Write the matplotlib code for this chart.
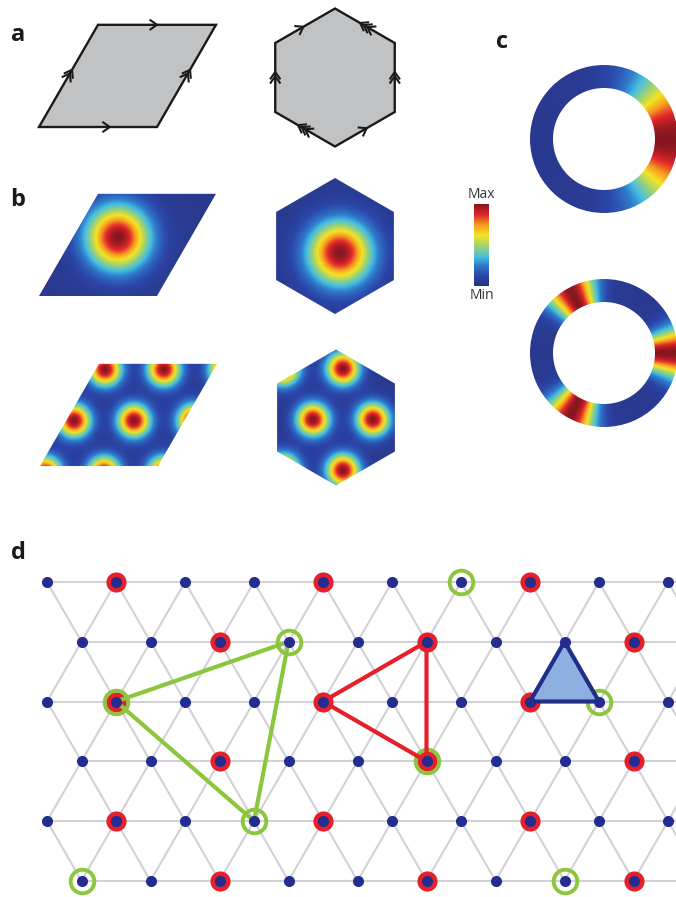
import numpy as np
import matplotlib
matplotlib.use('Agg')
import matplotlib.pyplot as plt
from matplotlib.colors import LinearSegmentedColormap
from matplotlib.patches import Polygon, Wedge

# ---------------- data ----------------
# panel a: unit cells (page pixel coordinates)
RHOMB_A_ORIGIN = (39, 127)          # bottom-left corner
HEX_A_CENTER = (335, 77.5)
RHOMB_SIDE = 118
HEX_A_RADIUS = 69
# arrow marks: (from vertex, to vertex, position along edge, number of chevrons)
RHOMB_ARROWS = [(0, 1, 0.60, 1), (3, 2, 0.50, 1), (0, 3, 0.56, 2), (1, 2, 0.56, 2)]
HEX_ARROWS = [(5, 0, 0.47, 1), (1, 0, 0.58, 3), (4, 5, 0.58, 2),
              (2, 1, 0.58, 2), (3, 4, 0.62, 3), (3, 2, 0.53, 1)]

# panel b: cells and density peaks
RHOMB_B_ORIGINS = [(39, 296), (40, 466)]
HEX_B_CENTERS = [(335, 246), (336, 417.5)]
HEX_B_RADIUS = 68
PEAKS_RHOMB_TOP = [(118, 238)]
PEAKS_HEX_TOP = [(340, 253)]
PEAKS_RHOMB_BOT = [(105, 370), (164, 370), (226, 370),
                   (74, 421), (134, 421), (194, 421),
                   (45, 473), (104, 473), (164, 473)]
PEAKS_HEX_BOT = [(283, 369), (343, 369), (313, 420), (373, 420),
                 (283, 471), (343, 471)]
SIGMA_TOP = 22
SIGMA_BOT = 11.5

# panel c: rings
RING_CENTERS = [(604, 139), (604, 353)]
RING_RADII = (51, 74)
RING1_PEAKS_DEG = [0]
RING2_PEAKS_DEG = [0, 118, -118]
RING1_SIGMA_DEG = 38
RING2_SIGMA_DEG = 14

# colour scale
CMAP_POS = [0.0, 0.12, 0.25, 0.35, 0.5, 0.62, 0.75, 0.87, 1.0]
CMAP_COLORS = ['#28327f', '#2b45a8', '#2f7ccc', '#45bfe0', '#a8d46a',
               '#f4e423', '#f59a22', '#e3262a', '#861620']
CBAR_BOX = (474, 489, 204, 286)

# panel d: triangular lattice (row, column)
COLS_PER_ROW = [10, 9, 10, 9, 10, 9]
RED_SITES = [(0, 1), (0, 4), (0, 7), (1, 2), (1, 5), (1, 8),
             (2, 1), (2, 4), (2, 7), (3, 2), (3, 5), (3, 8),
             (4, 1), (4, 4), (4, 7), (5, 2), (5, 5), (5, 8)]
GREEN_SITES = [(0, 6), (1, 3), (2, 1), (2, 8), (3, 5), (4, 3), (5, 0), (5, 7)]
GREEN_TRIANGLE = [(2, 1), (1, 3), (4, 3)]
RED_TRIANGLE = [(2, 4), (1, 5), (3, 5)]
BLUE_TRIANGLE = [(1, 7), (2, 7), (2, 8)]

LABELS = [('a', 18, 35), ('b', 18, 200), ('c', 502, 42), ('d', 18, 553)]

BLUE = '#232d8f'
RED = '#e5202a'
GREEN = '#8cc63f'
GREY = '#d2d2d6'

cmap = LinearSegmentedColormap.from_list('soft_jet', list(zip(CMAP_POS, CMAP_COLORS)))


def rhombus(origin, side):
    ox, oy = origin
    h = side * np.sqrt(3) / 2
    return np.array([(ox, oy), (ox + side, oy), (ox + 1.5 * side, oy - h), (ox + 0.5 * side, oy - h)])


def hexagon(center, r):
    cx, cy = center
    ang = np.deg2rad([90, 30, -30, -90, -150, 150])
    return np.column_stack([cx + r * np.cos(ang), cy - r * np.sin(ang)])


def chevrons(ax, p, q, t, n, size=8.0, spread=35, gap=4.2):
    p, q = np.asarray(p, float), np.asarray(q, float)
    d = (q - p) / np.linalg.norm(q - p)
    perp = np.array([-d[1], d[0]])
    tip0 = p + t * (q - p)
    s = np.deg2rad(spread)
    for k in range(n):
        tip = tip0 - k * gap * d
        a = tip - size * np.cos(s) * d + size * np.sin(s) * perp
        b = tip - size * np.cos(s) * d - size * np.sin(s) * perp
        ax.plot([a[0], tip[0], b[0]], [a[1], tip[1], b[1]], color='#1a1a1a',
                lw=1.5, solid_joinstyle='miter', zorder=4)


def density_image(ax, verts, peaks, sigma):
    x0, y0 = verts.min(axis=0) - 2
    x1, y1 = verts.max(axis=0) + 2
    xx, yy = np.meshgrid(np.linspace(x0, x1, 300), np.linspace(y0, y1, 300))
    g = np.zeros_like(xx)
    for px, py in peaks:
        g += np.exp(-((xx - px) ** 2 + (yy - py) ** 2) / (2 * sigma ** 2))
    val = 0.05 + 0.95 * np.clip(g, 0, 1)
    im = ax.imshow(val, extent=(x0, x1, y1, y0), origin='upper', cmap=cmap,
                   vmin=0, vmax=1, aspect='auto', interpolation='bilinear', zorder=2)
    clip = Polygon(verts, closed=True, transform=ax.transData)
    im.set_clip_path(clip)


def ring_image(ax, center, radii, peaks_deg, sigma_deg):
    cx, cy = center
    r_in, r_out = radii
    xx, yy = np.meshgrid(np.linspace(cx - r_out, cx + r_out, 400),
                         np.linspace(cy - r_out, cy + r_out, 400))
    theta = np.degrees(np.arctan2(-(yy - cy), xx - cx))
    g = np.zeros_like(xx)
    for p in peaks_deg:
        dth = (theta - p + 180) % 360 - 180
        g += np.exp(-dth ** 2 / (2 * sigma_deg ** 2))
    val = 0.05 + 0.95 * np.clip(g, 0, 1)
    im = ax.imshow(val, extent=(cx - r_out, cx + r_out, cy + r_out, cy - r_out),
                   origin='upper', cmap=cmap, vmin=0, vmax=1, aspect='auto',
                   interpolation='bilinear', zorder=2)
    clip = Wedge((cx, cy), r_out, 0, 360, width=r_out - r_in, transform=ax.transData)
    im.set_clip_path(clip)


fig = plt.figure(figsize=(6.76, 8.97), dpi=100)
ax = fig.add_axes([0, 0, 1, 1])

# ---- panel a ----
rh = rhombus(RHOMB_A_ORIGIN, RHOMB_SIDE)
hx = hexagon(HEX_A_CENTER, HEX_A_RADIUS)
for verts, arrows in [(rh, RHOMB_ARROWS), (hx, HEX_ARROWS)]:
    ax.add_patch(Polygon(verts, closed=True, facecolor='#c1c2c4', edgecolor='#1a1a1a',
                         lw=1.7, joinstyle='miter', zorder=3))
    for i, j, t, n in arrows:
        chevrons(ax, verts[i], verts[j], t, n)

# ---- panel b ----
density_image(ax, rhombus(RHOMB_B_ORIGINS[0], RHOMB_SIDE), PEAKS_RHOMB_TOP, SIGMA_TOP)
density_image(ax, hexagon(HEX_B_CENTERS[0], HEX_B_RADIUS), PEAKS_HEX_TOP, SIGMA_TOP)
density_image(ax, rhombus(RHOMB_B_ORIGINS[1], RHOMB_SIDE), PEAKS_RHOMB_BOT, SIGMA_BOT)
density_image(ax, hexagon(HEX_B_CENTERS[1], HEX_B_RADIUS), PEAKS_HEX_BOT, SIGMA_BOT)

# colour bar
cx0, cx1, cy0, cy1 = CBAR_BOX
grad = np.linspace(1, 0, 200).reshape(-1, 1)
ax.imshow(grad, extent=(cx0, cx1, cy1, cy0), origin='upper', cmap=cmap,
          vmin=0, vmax=1, aspect='auto', zorder=2)
ax.text((cx0 + cx1) / 2, cy0 - 2, 'Max', ha='center', va='bottom', fontsize=10,
        color='#333333', family='Open Sans')
ax.text((cx0 + cx1) / 2, cy1 + 2, 'Min', ha='center', va='top', fontsize=10,
        color='#333333', family='Open Sans')

# ---- panel c ----
ring_image(ax, RING_CENTERS[0], RING_RADII, RING1_PEAKS_DEG, RING1_SIGMA_DEG)
ring_image(ax, RING_CENTERS[1], RING_RADII, RING2_PEAKS_DEG, RING2_SIGMA_DEG)

for lab, x, y in LABELS:
    ax.text(x, y, lab, ha='center', va='center', fontsize=17, fontweight='bold',
            color='#1a1a1a', family='Open Sans')

ax.set_xlim(0, 676)
ax.set_ylim(897, 0)
ax.axis('off')

# ---- panel d ----
PX = 69.0
X0_PX, Y0_PX, TOP_PX = 47, 582, 560
axd = fig.add_axes([0, 0, 1, (897 - TOP_PX) / 897])
axd.set_xlim(-X0_PX / PX, (676 - X0_PX) / PX)
axd.set_ylim(-(897 - Y0_PX) / PX, (Y0_PX - TOP_PX) / PX)
axd.axis('off')

ROW_H = np.sqrt(3) / 2


def site(r, c):
    return c + 0.5 * (r % 2), -r * ROW_H


# lattice bonds (extra columns so lines run off the right edge)
n_rows = len(COLS_PER_ROW)
for r in range(n_rows):
    xs = [site(r, c)[0] for c in range(COLS_PER_ROW[r] + 2)]
    axd.plot([xs[0], xs[-1]], [-r * ROW_H] * 2, color=GREY, lw=1.5, zorder=1)
    if r + 1 < n_rows:
        for c in range(COLS_PER_ROW[r] + 2):
            xa, ya = site(r, c)
            for c2 in range(COLS_PER_ROW[r + 1] + 2):
                xb, yb = site(r + 1, c2)
                if abs(xb - xa) == 0.5:
                    axd.plot([xa, xb], [ya, yb], color=GREY, lw=1.5, zorder=1)

red_xy = np.array([site(r, c) for r, c in RED_SITES])
axd.plot(red_xy[:, 0], red_xy[:, 1], 'o', ms=14.5, color=RED, mec='none', zorder=2)

green_xy = np.array([site(r, c) for r, c in GREEN_SITES])
axd.plot(green_xy[:, 0], green_xy[:, 1], 'o', ms=17, mfc='none', mec=GREEN,
         mew=2.8, zorder=3)

for tri, col in [(GREEN_TRIANGLE, GREEN), (RED_TRIANGLE, RED)]:
    pts = np.array([site(r, c) for r, c in tri])
    axd.add_patch(Polygon(pts, closed=True, fill=False, edgecolor=col, lw=3.0,
                          joinstyle='round', zorder=4))
pts = np.array([site(r, c) for r, c in BLUE_TRIANGLE])
axd.add_patch(Polygon(pts, closed=True, facecolor='#8db0e0', edgecolor='#1f2f88',
                      lw=3.0, joinstyle='round', zorder=4))

all_sites = np.array([site(r, c) for r in range(n_rows) for c in range(COLS_PER_ROW[r])])
axd.plot(all_sites[:, 0], all_sites[:, 1], 'o', ms=8, color=BLUE, mec='none', zorder=5)

fig.savefig('out.png', dpi=100)
